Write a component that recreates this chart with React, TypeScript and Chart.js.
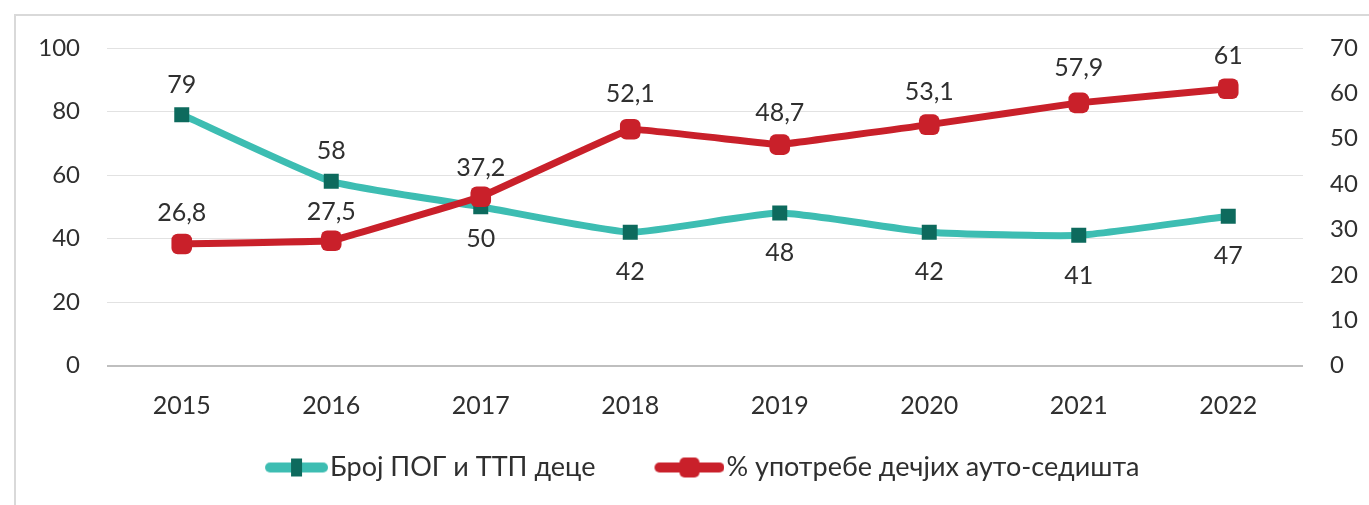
import React, { useEffect, useRef } from "react";
import { Chart, registerables } from "chart.js";

Chart.register(...registerables);

const categories = ["2015", "2016", "2017", "2018", "2019", "2020", "2021", "2022"];
const childrenCount = [79, 58, 50, 42, 48, 42, 41, 47];
const seatUsage = [26.8, 27.5, 37.2, 52.1, 48.7, 53.1, 57.9, 61];
const seriesNames = ["Број ПОГ и ТТП деце", "% употребе дечјих ауто-седишта"];
// label vertical offsets (px) relative to each point
const childrenLabelOffset = [-30, -30, 32, 40, 40, 40, 41, 40];
const seatLabelOffset = [-31, -29, -29, -35, -32, -33, -35, -33];

const FONT = "Lato";
const TEAL_LINE = "#3dbdb2";
const TEAL_MARK = "#0d6a5d";
const RED = "#c9202a";
const TEXT = "#2f2f2f";
const LEG_FONT = 27;
const LEG_PAD = 8.5;
const LEG_T = 62;
const LEG_W = 70 + LEG_T;
const LEG_SHIFT = -11;

function legendImage(line: string, mark: string, rounded: boolean) {
  const c = document.createElement("canvas");
  c.width = LEG_W;
  c.height = 24;
  const g = c.getContext("2d")!;
  const x0 = LEG_T;
  g.strokeStyle = line;
  g.lineWidth = 10;
  g.lineCap = "round";
  g.beginPath();
  g.moveTo(x0 + (rounded ? 5 : 12), 12);
  g.lineTo(x0 + 65, 12);
  g.stroke();
  g.fillStyle = mark;
  if (rounded) {
    g.beginPath();
    (g as any).roundRect(x0 + 25, 2, 20, 20, 5);
    g.fill();
  } else {
    g.fillRect(x0 + 33, 3, 11, 18);
  }
  return c;
}

const framePlugin = {
  id: "frame",
  beforeDraw(chart: any) {
    const { ctx, width, height } = chart;
    ctx.save();
    ctx.fillStyle = "#ffffff";
    ctx.fillRect(0, 0, width, height);
    ctx.strokeStyle = "#d9d9d9";
    ctx.lineWidth = 2;
    ctx.beginPath();
    ctx.moveTo(15, height);
    ctx.lineTo(15, 15);
    ctx.lineTo(width, 15);
    ctx.stroke();
    ctx.restore();
  },
};

const legendShiftPlugin = {
  id: "legendShift",
  afterLayout(chart: any) {
    if (chart.legend) {
      chart.legend.left += LEG_SHIFT;
      chart.legend.right += LEG_SHIFT;
    }
  },
};

const labelPlugin = {
  id: "valueLabels",
  afterDatasetsDraw(chart: any) {
    const { ctx } = chart;
    const offsets = [childrenLabelOffset, seatLabelOffset];
    ctx.save();
    ctx.font = `25px ${FONT}`;
    ctx.fillStyle = TEXT;
    ctx.textAlign = "center";
    ctx.textBaseline = "middle";
    chart.data.datasets.forEach((ds: any, i: number) => {
      const meta = chart.getDatasetMeta(i);
      meta.data.forEach((pt: any, j: number) => {
        const v = ds.data[j];
        const txt = String(v).replace(".", ",");
        ctx.fillText(txt, pt.x, pt.y + offsets[i][j]);
      });
    });
    ctx.restore();
  },
};

export default function App() {
  const ref = useRef<HTMLCanvasElement>(null);
  useEffect(() => {
    const chart = new Chart(ref.current!, {
      type: "line",
      data: {
        labels: categories,
        datasets: [
          {
            label: seriesNames[0],
            data: childrenCount,
            yAxisID: "y",
            borderColor: TEAL_LINE,
            backgroundColor: TEAL_MARK,
            borderWidth: 7,
            pointStyle: "rect",
            pointRadius: 10.6,
            pointBorderWidth: 0,
            pointBackgroundColor: TEAL_MARK,
            tension: 0.15,
            order: 1,
          },
          {
            label: seriesNames[1],
            data: seatUsage,
            yAxisID: "y1",
            borderColor: RED,
            backgroundColor: RED,
            borderWidth: 7,
            pointStyle: "rectRounded",
            pointRadius: 12,
            pointBorderWidth: 0,
            pointBackgroundColor: RED,
            tension: 0.03,
            order: 0,
          },
        ],
      },
      options: {
        responsive: false,
        animation: false,
        layout: { padding: { top: 48, left: 0, right: 0, bottom: 14 } },
        plugins: {
          tooltip: { enabled: false },
          legend: {
            position: "bottom",
            labels: {
              usePointStyle: true,
              pointStyleWidth: LEG_W - 23,
              padding: LEG_PAD,
              color: TEXT,
              font: { family: FONT, size: LEG_FONT },
              generateLabels: () => [
                {
                  text: seriesNames[0],
                  pointStyle: legendImage(TEAL_LINE, TEAL_MARK, false),
                  fillStyle: TEAL_MARK,
                  strokeStyle: TEAL_MARK,
                  lineWidth: 0,
                  hidden: false,
                  datasetIndex: 0,
                  fontColor: TEXT,
                },
                {
                  text: seriesNames[1],
                  pointStyle: legendImage(RED, RED, true),
                  fillStyle: RED,
                  strokeStyle: RED,
                  lineWidth: 0,
                  hidden: false,
                  datasetIndex: 1,
                  fontColor: TEXT,
                },
              ],
            },
          },
        },
        scales: {
          x: {
            offset: true,
            grid: { display: false, drawTicks: false },
            border: { display: false },
            ticks: { color: TEXT, font: { family: FONT, size: 25 }, padding: 25, maxRotation: 0, autoSkip: false },
          },
          y: {
            position: "left",
            min: 0,
            max: 100,
            ticks: { stepSize: 20, color: TEXT, font: { family: FONT, size: 24 }, padding: 27 },
            grid: {
              drawTicks: false,
              color: (c: any) => (c.tick && c.tick.value === 0 ? "#bfbfbf" : "#e2e2e2"),
              lineWidth: (c: any) => (c.tick && c.tick.value === 0 ? 2 : 1),
            },
            border: { display: false },
            afterFit: (s: any) => {
              s.width = 107;
            },
          },
          y1: {
            position: "right",
            min: 0,
            max: 70,
            ticks: { stepSize: 10, color: TEXT, font: { family: FONT, size: 24 }, padding: 27 },
            grid: { display: false, drawTicks: false },
            border: { display: false },
            afterFit: (s: any) => {
              s.width = 66;
            },
          },
        },
      },
      plugins: [framePlugin, legendShiftPlugin, labelPlugin],
    } as any);
    return () => chart.destroy();
  }, []);
  return (
    <div style={{ position: "fixed", left: 0, top: 0, width: 1369, height: 505 }}>
      <canvas ref={ref} width={1369} height={505} />
    </div>
  );
}
